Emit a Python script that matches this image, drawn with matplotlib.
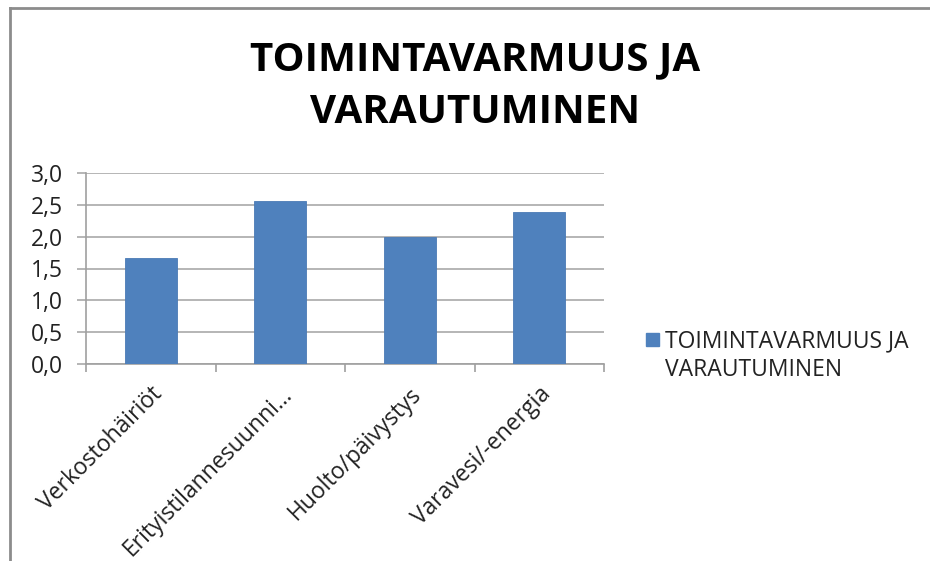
import matplotlib
matplotlib.use('Agg')
import matplotlib.pyplot as plt
from matplotlib.patches import Rectangle
from matplotlib.lines import Line2D
from matplotlib.ticker import FuncFormatter
import numpy as np

plt.rcParams['font.family'] = ['Open Sans', 'DejaVu Sans']

title = 'TOIMINTAVARMUUS JA\nVARAUTUMINEN'
series_name = 'TOIMINTAVARMUUS JA\nVARAUTUMINEN'
categories = ['Verkostohäiriöt', 'Erityistilannesuunni...', 'Huolto/päivystys', 'Varavesi/-energia']
values = [1.66, 2.56, 2.00, 2.38]
yticks = [0.0, 0.5, 1.0, 1.5, 2.0, 2.5, 3.0]

W, H = 930, 561
fig = plt.figure(figsize=(W / 100, H / 100), dpi=100)

# frame of the chart object (top and left edges only visible)
fig.add_artist(Line2D([10 / W, 10 / W], [0, 1 - 8 / H], color='#8c8c8c', lw=2, transform=fig.transFigure))
fig.add_artist(Line2D([10 / W, 1], [1 - 8 / H, 1 - 8 / H], color='#8c8c8c', lw=2, transform=fig.transFigure))

ax = fig.add_axes([86 / W, 1 - 364 / H, (604 - 86) / W, (364 - 173) / H])
x = np.arange(len(categories))
ax.bar(x, values, width=0.4, color='#4f81bd', edgecolor='#4a7ab5', linewidth=0.6, zorder=3)

ax.set_xlim(-0.5, len(categories) - 0.5)
ax.set_ylim(0, 3.0)
ax.set_yticks(yticks)
ax.yaxis.set_major_formatter(FuncFormatter(lambda v, p: ('%.1f' % v).replace('.', ',')))
ax.grid(axis='y', color='#b0b0b0', lw=1.3, zorder=0)
ax.tick_params(axis='y', length=6.5, width=1.3, color='#b0b0b0', pad=10, labelsize=16.5,
               labelcolor='#222222')

# category boundary ticks
ax.set_xticks(x)
ax.set_xticklabels(categories, rotation=45, ha='right', va='top', rotation_mode='anchor',
                   fontsize=16.5, color='#222222')
ax.tick_params(axis='x', length=0, pad=13)
ax.set_xticks(np.arange(len(categories) + 1) - 0.5, minor=True)
ax.tick_params(axis='x', which='minor', length=6, color='#a0a0a0', width=1.2)

for s in ['top', 'right']:
    ax.spines[s].set_visible(False)
ax.spines['left'].set_color('#a0a0a0')
ax.spines['bottom'].set_color('#a0a0a0')
ax.spines['left'].set_linewidth(1.2)
ax.spines['bottom'].set_linewidth(1.2)

fig.text(475 / W, 1 - 86 / H, title, ha='center', va='center', fontsize=29,
         fontweight='bold', linespacing=1.45, color='black')

# legend
fig.add_artist(Rectangle((646 / W, 1 - 346 / H), 13 / W, 13 / H, color='#4f81bd',
                         transform=fig.transFigure))
fig.text(665 / W, 1 - 356 / H, series_name, ha='left', va='center', fontsize=16.5, color='#222222',
         linespacing=1.25)

fig.savefig('out.png', dpi=100)
